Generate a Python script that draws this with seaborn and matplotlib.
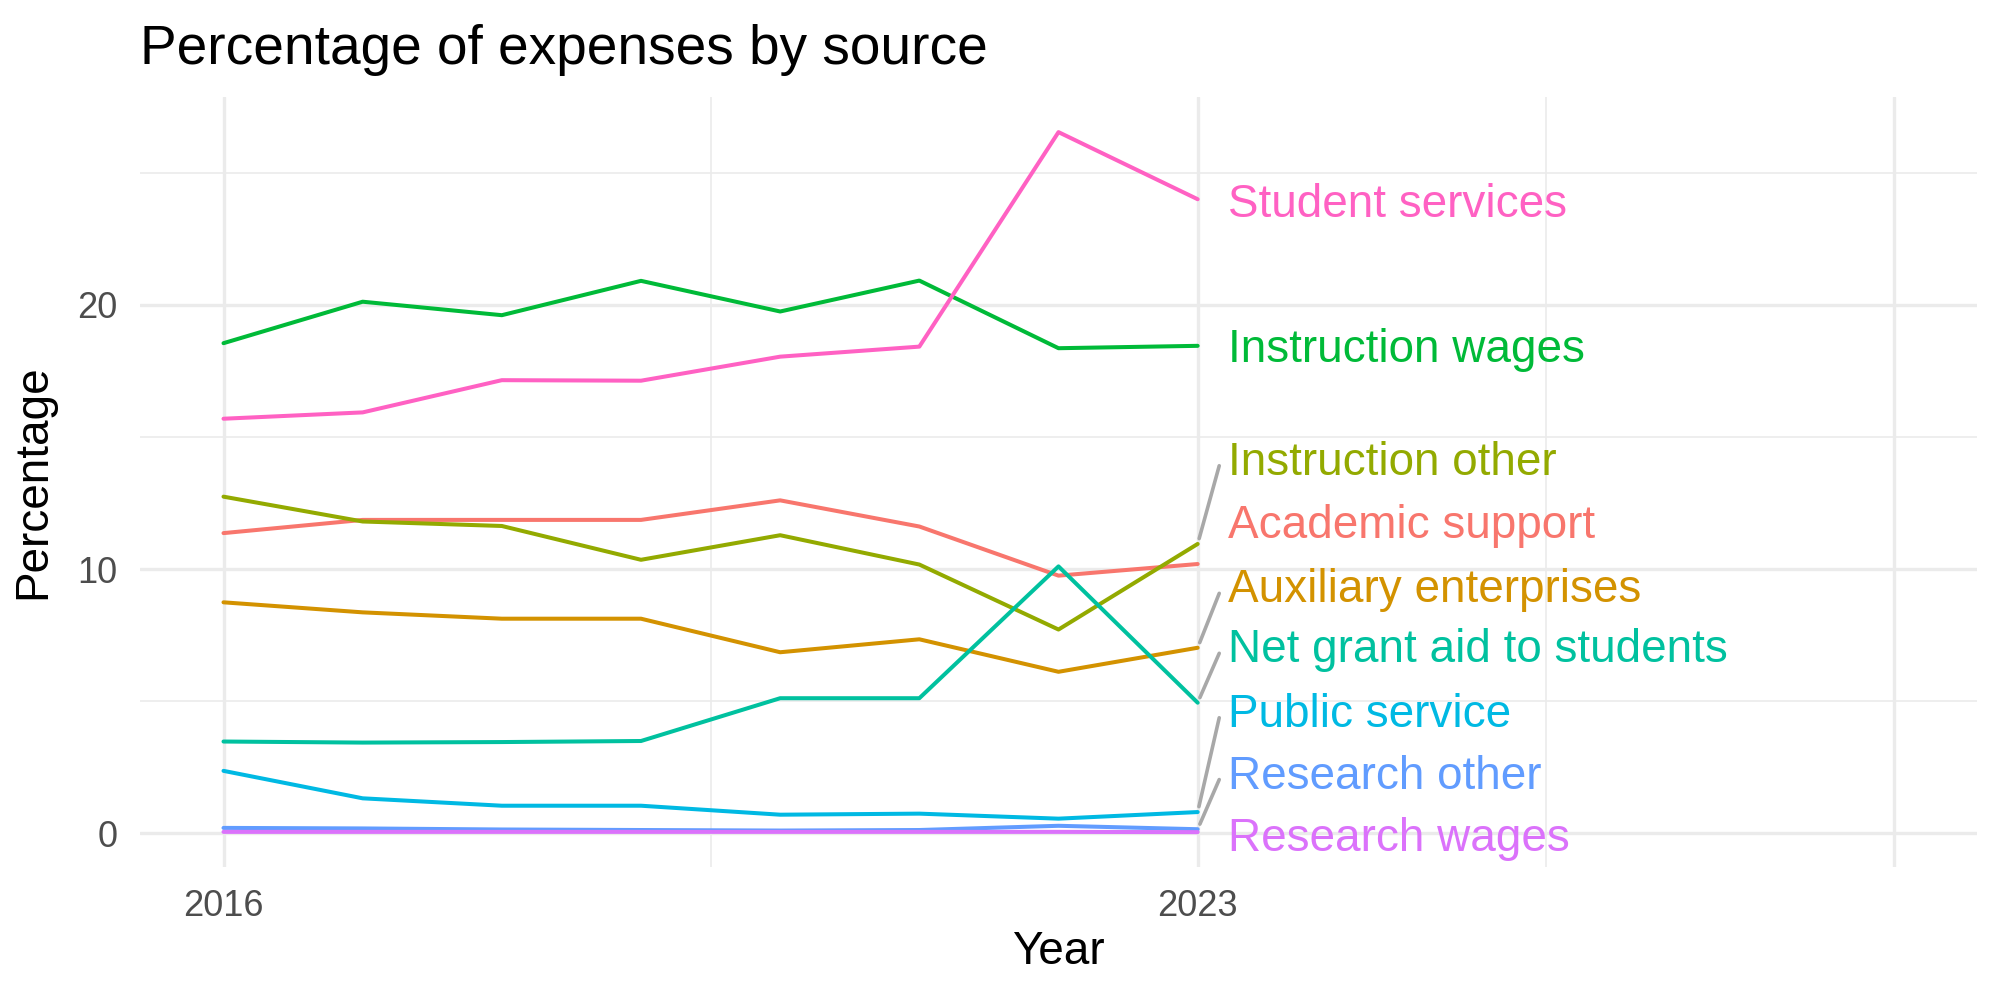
import numpy as np
import pandas as pd
import matplotlib
matplotlib.use("Agg")
import matplotlib.pyplot as plt
import seaborn as sns

# values
years = [2016, 2017, 2018, 2019, 2020, 2021, 2022, 2023]

academic_support = [11.36, 11.86, 11.86, 11.86, 12.60, 11.61, 9.75, 10.19]
auxiliary_enterprises = [8.74, 8.36, 8.12, 8.12, 6.85, 7.34, 6.11, 7.02]
instruction_other = [12.74, 11.80, 11.63, 10.35, 11.28, 10.17, 7.71, 10.95]
instruction_wages = [18.55, 20.12, 19.61, 20.91, 19.75, 20.92, 18.36, 18.45]
net_grant_aid = [3.47, 3.43, 3.45, 3.49, 5.11, 5.11, 10.10, 4.94]
public_service = [2.36, 1.32, 1.04, 1.04, 0.70, 0.74, 0.55, 0.80]
research_other = [0.20, 0.18, 0.14, 0.12, 0.10, 0.12, 0.28, 0.15]
research_wages = [0.05, 0.05, 0.05, 0.05, 0.05, 0.05, 0.05, 0.04]
student_services = [15.69, 15.93, 17.15, 17.13, 18.04, 18.42, 26.54, 24.00]

sources = ["Academic support", "Auxiliary enterprises", "Instruction other",
           "Instruction wages", "Net grant aid to students", "Public service",
           "Research other", "Research wages", "Student services"]
series = [academic_support, auxiliary_enterprises, instruction_other,
          instruction_wages, net_grant_aid, public_service,
          research_other, research_wages, student_services]

colors = ["#F8766D", "#D39200", "#93AA00", "#00BA38", "#00C19F",
          "#00B9E3", "#619CFF", "#DB72FB", "#FF61C3"]

# repelled label baselines (same order as sources)
label_y = [11.18, 8.74, 13.57, 17.83, 6.47, 4.03, 1.69, -0.67, 23.32]

rows = []
for name, vals in zip(sources, series):
    for yr, v in zip(years, vals):
        rows.append({"Year": yr, "Percentage": v, "Source": name})
df = pd.DataFrame(rows)

sns.set_style("white")
plt.rcParams["font.family"] = ["Liberation Sans", "DejaVu Sans"]

fig, ax = plt.subplots(figsize=(10, 5), dpi=200)
fig.subplots_adjust(left=0.07, right=0.9885, top=0.903, bottom=0.133)

sns.lineplot(data=df, x="Year", y="Percentage", hue="Source",
             hue_order=sources, palette=colors, linewidth=1.45,
             legend=False, ax=ax, zorder=3)

last = years[-1]
lab_x = last + 0.22
for name, vals, col, ly in zip(sources, series, colors, label_y):
    v = vals[-1]
    if abs(ly + 0.45 - v) > 1.5:
        ax.annotate("", xy=(last + 0.155, ly + 0.34), xytext=(last, v),
                    arrowprops=dict(arrowstyle="-", color="#A8A8A8", lw=1.3,
                                    shrinkA=2, shrinkB=0), zorder=2)
    ax.text(lab_x, ly, name, color=col, fontsize=16.5, va="baseline",
            ha="left", zorder=4)

ax.set_xlim(2015.4, 2028.6)
ax.set_ylim(-1.28, 27.87)
ax.set_xticks([2016, 2023, 2028])
ax.set_xticklabels(["2016", "2023", ""])
ax.set_xticks([2019.5, 2025.5], minor=True)
ax.set_yticks([0, 10, 20])
ax.set_yticks([5, 15, 25], minor=True)

ax.grid(which="major", color="#EBEBEB", linewidth=1.2)
ax.grid(which="minor", color="#EBEBEB", linewidth=0.6)
ax.set_axisbelow(True)
for s in ax.spines.values():
    s.set_visible(False)
ax.tick_params(which="both", length=0, pad=8, labelsize=13, labelcolor="#4D4D4D")

ax.set_xlabel("Year", fontsize=16.5, labelpad=2, color="black")
ax.set_ylabel("Percentage", fontsize=16.5, labelpad=8, color="black")
ax.set_title("Percentage of expenses by source", loc="left", fontsize=19.8,
             pad=12, color="black")

plt.savefig("out.png", dpi=200)
